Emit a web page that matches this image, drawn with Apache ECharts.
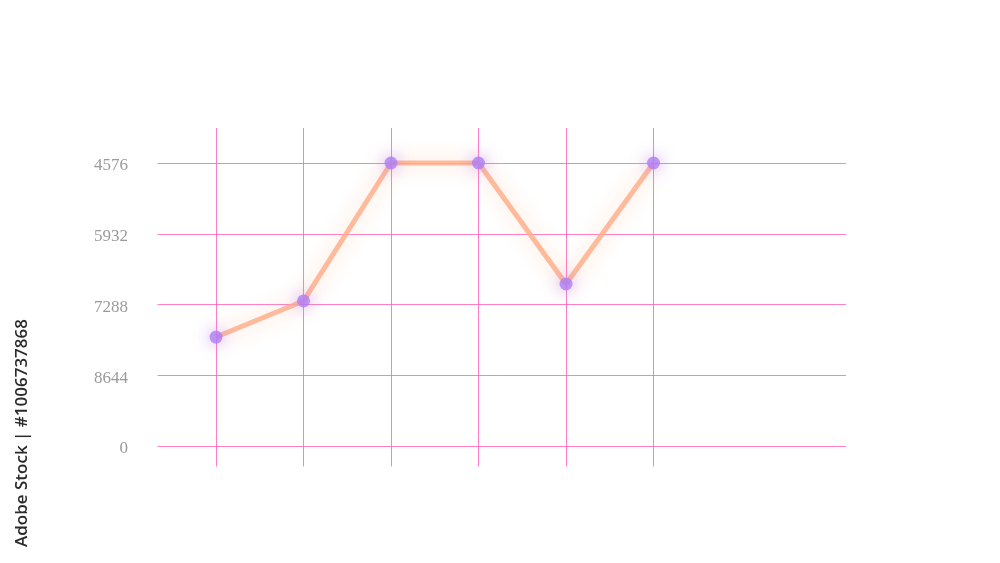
<!DOCTYPE html>
<html>
<head>
<meta charset="utf-8">
<script src="https://cdn.jsdelivr.net/npm/echarts@6/dist/echarts.min.js"></script>
<style>
html,body{margin:0;padding:0;background:#fff;}
#c{width:1000px;height:563px;}
</style>
</head>
<body>
<div id="c"></div>
<script>
// Tick labels shown on the y axis, bottom to top (as printed in the picture)
var yTickLabels = ['0', '8644', '7288', '5932', '4576'];
var yTickPositions = [0, 1, 2, 3, 4];
// Point positions along x (one per vertical guide line)
var xPositions = [1, 2, 3, 4, 5, 6];
// Series values, expressed in tick-row units (0 = bottom row, 4 = top row)
var seriesValues = [1.54, 2.05, 4, 4, 2.29, 4];

var chart = echarts.init(document.getElementById('c'));
var pink = 'rgba(255,95,185,0.8)';

var points = xPositions.map(function (x, i) { return [x, seriesValues[i]]; });

chart.setOption({
  backgroundColor: '#ffffff',
  animation: false,
  grid: { left: 157.5, right: 154, top: 128, bottom: 96.5, containLabel: false },
  xAxis: {
    type: 'value', min: 0.331, max: 8.2,
    axisLine: { show: false }, axisTick: { show: false },
    axisLabel: { show: false }, splitLine: { show: false }
  },
  yAxis: {
    type: 'value', min: -0.29, max: 4.495,
    axisLine: { show: false }, axisTick: { show: false },
    splitLine: { show: false },
    axisLabel: {
      customValues: yTickPositions,
      formatter: function (v) { return '{t|' + yTickLabels[Math.round(v)] + '}'; },
      margin: 29.5,
      rich: {
        t: {
          color: '#9a9a9a', fontFamily: 'Liberation Serif, serif', fontSize: 17,
          padding: [6, 0, 0, 0]
        }
      }
    }
  },
  series: [
    {
      type: 'line',
      data: [],
      silent: true,
      markLine: {
        symbol: 'none', silent: true, label: { show: false },
        lineStyle: { color: pink, width: 1, type: 'solid' },
        data: yTickPositions.map(function (v) { return { yAxis: v }; })
          .concat(xPositions.map(function (v) { return { xAxis: v }; }))
      }
    },
    {
      type: 'line',
      data: points,
      z: 5,
      symbol: 'circle',
      symbolSize: 13,
      lineStyle: {
        color: 'rgba(255,175,140,0.85)', width: 5,
        shadowColor: 'rgba(255,160,100,0.5)', shadowBlur: 20
      },
      itemStyle: {
        color: 'rgba(175,125,245,0.8)', borderWidth: 0,
        shadowColor: 'rgba(165,100,255,0.75)', shadowBlur: 16
      }
    }
  ],
  graphic: [
    {
      type: 'text',
      x: 22, y: 433, rotation: Math.PI / 2,
      style: {
        text: 'Adobe Stock | #1006737868',
        fill: '#2a2a2a',
        font: '600 17px "Open Sans", "Noto Sans", sans-serif',
        align: 'center', verticalAlign: 'middle'
      }
    }
  ]
});
</script>
</body>
</html>
